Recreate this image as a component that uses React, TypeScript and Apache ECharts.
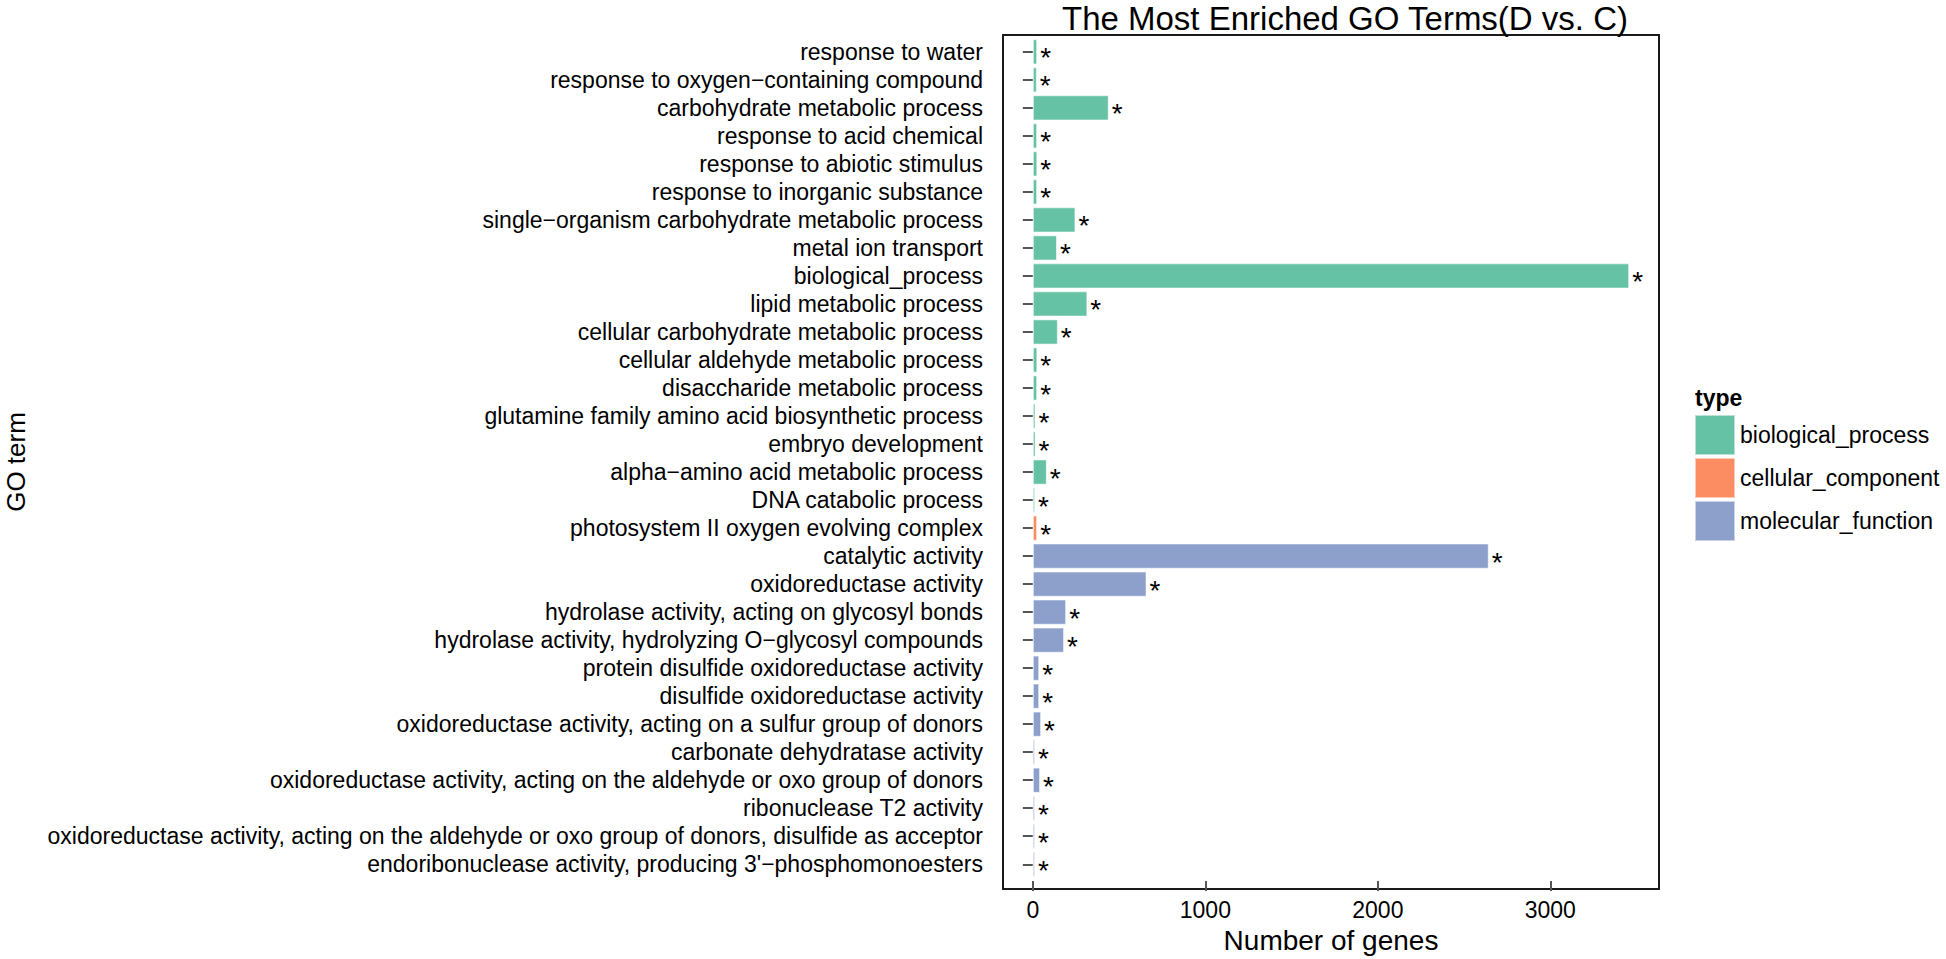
import React, { useEffect, useRef } from "react";
import * as echarts from "echarts";

const FONT = "Liberation Sans";

const goTerms: string[] = [
  "response to water",
  "response to oxygen\u2212containing compound",
  "carbohydrate metabolic process",
  "response to acid chemical",
  "response to abiotic stimulus",
  "response to inorganic substance",
  "single\u2212organism carbohydrate metabolic process",
  "metal ion transport",
  "biological_process",
  "lipid metabolic process",
  "cellular carbohydrate metabolic process",
  "cellular aldehyde metabolic process",
  "disaccharide metabolic process",
  "glutamine family amino acid biosynthetic process",
  "embryo development",
  "alpha\u2212amino acid metabolic process",
  "DNA catabolic process",
  "photosystem II oxygen evolving complex",
  "catalytic activity",
  "oxidoreductase activity",
  "hydrolase activity, acting on glycosyl bonds",
  "hydrolase activity, hydrolyzing O\u2212glycosyl compounds",
  "protein disulfide oxidoreductase activity",
  "disulfide oxidoreductase activity",
  "oxidoreductase activity, acting on a sulfur group of donors",
  "carbonate dehydratase activity",
  "oxidoreductase activity, acting on the aldehyde or oxo group of donors",
  "ribonuclease T2 activity",
  "oxidoreductase activity, acting on the aldehyde or oxo group of donors, disulfide as acceptor",
  "endoribonuclease activity, producing 3'\u2212phosphomonoesters",
];

const geneCounts: number[] = [
  25, 23, 440, 25, 26, 25, 247, 140, 3457, 316, 145, 26, 25, 15, 16, 81, 13,
  25,
  2643, 659, 193, 181, 37, 37, 48, 12, 42, 12, 12, 12,
];

const termTypes: string[] = [
  "biological_process", "biological_process", "biological_process", "biological_process",
  "biological_process", "biological_process", "biological_process", "biological_process",
  "biological_process", "biological_process", "biological_process", "biological_process",
  "biological_process", "biological_process", "biological_process", "biological_process",
  "biological_process",
  "cellular_component",
  "molecular_function", "molecular_function", "molecular_function", "molecular_function",
  "molecular_function", "molecular_function", "molecular_function", "molecular_function",
  "molecular_function", "molecular_function", "molecular_function", "molecular_function",
];

const typeNames: string[] = ["biological_process", "cellular_component", "molecular_function"];
const typeColors: string[] = ["#66C2A5", "#FC8D62", "#8DA0CB"];
const xTickValues: number[] = [0, 1000, 2000, 3000];
const significanceMark = "*";

export default function App() {
  const ref = useRef<HTMLDivElement>(null);

  useEffect(() => {
    if (!ref.current) return;
    const chart = echarts.init(ref.current, null, { renderer: "svg" });

    // panel frame geometry (ggplot-like expansion: 0.6 band each side for discrete axis)
    const frameTop = 35;
    const frameBottom = 70;
    const frameLeft = 1003;
    const frameRight = 287;
    const nCat = goTerms.length;
    const panelH = 959 - frameTop - frameBottom;
    const band = panelH / (nCat + 0.2);
    const extra = band * 0.1;

    const series = typeNames.map((t, k) => ({
      name: t,
      type: "bar",
      stack: "all",
      xAxisIndex: 1,
      yAxisIndex: 1,
      barCategoryGap: "10%",
      data: geneCounts.map((v, i) => (termTypes[i] === t ? v : null)),
      itemStyle: {
        color: typeColors[k],
        borderColor: "rgba(255,255,255,0.55)",
        borderWidth: 1,
      },
      label: {
        show: true,
        position: "right",
        formatter: significanceMark,
        distance: 3,
        offset: [0, 6],
        fontSize: 28,
        fontFamily: FONT,
        color: "#000",
      },
    }));

    chart.setOption({
      animation: false,
      backgroundColor: "#fff",
      textStyle: { fontFamily: FONT },
      title: {
        text: "The Most Enriched GO Terms(D vs. C)",
        left: 1345,
        top: 2,
        textAlign: "center",
        padding: 0,
        textStyle: { fontSize: 33, fontWeight: "normal", color: "#000", fontFamily: FONT },
      },
      legend: {
        data: typeNames,
        orient: "vertical",
        left: 1694,
        top: 414,
        padding: 0,
        itemWidth: 40,
        itemHeight: 40,
        itemGap: 1,
        icon: "rect",
        selectedMode: false,
        textStyle: { fontSize: 23, color: "#000", fontFamily: FONT },
      },
      graphic: [
        {
          type: "text",
          x: 16,
          y: 462,
          rotation: Math.PI / 2,
          style: {
            text: "GO term",
            fontSize: 26,
            fontFamily: FONT,
            fill: "#000",
            textAlign: "center",
            textVerticalAlign: "middle",
          },
        },
        {
          type: "text",
          x: 1695,
          y: 398,
          style: {
            text: "type",
            fontSize: 23,
            fontWeight: "bold",
            fontFamily: FONT,
            fill: "#000",
            textAlign: "left",
            textVerticalAlign: "middle",
          },
        },
      ],
      grid: [
        {
          left: frameLeft,
          right: frameRight,
          top: frameTop,
          bottom: frameBottom,
          show: true,
          borderColor: "#1a1a1a",
          borderWidth: 2,
          backgroundColor: "transparent",
        },
        {
          left: frameLeft,
          right: frameRight,
          top: frameTop + extra,
          bottom: frameBottom + extra,
        },
      ],
      xAxis: [
        { type: "value", gridIndex: 0, show: false },
        {
          type: "value",
          gridIndex: 1,
          min: -173,
          max: 3630,
          offset: extra,
          name: "Number of genes",
          nameLocation: "middle",
          nameGap: 40,
          nameTextStyle: { fontSize: 28, color: "#000", fontFamily: FONT },
          axisLine: { show: false },
          splitLine: { show: false },
          axisTick: {
            show: true,
            length: 10,
            customValues: xTickValues,
            lineStyle: { color: "#555", width: 2 },
          },
          axisLabel: {
            customValues: xTickValues,
            formatter: (v: number) => String(v),
            margin: 17,
            fontSize: 23,
            color: "#000",
            fontFamily: FONT,
          },
        },
      ],
      yAxis: [
        { type: "value", gridIndex: 0, show: false },
        {
          type: "category",
          gridIndex: 1,
          inverse: true,
          data: goTerms,
          axisLine: { show: false },
          axisTick: {
            show: true,
            alignWithLabel: true,
            length: 10,
            lineStyle: { color: "#555", width: 2 },
          },
          axisLabel: {
            margin: 20,
            fontSize: 23,
            color: "#000",
            fontFamily: FONT,
            interval: 0,
          },
        },
      ],
      series,
    });

    return () => chart.dispose();
  }, []);

  return (
    <div
      ref={ref}
      style={{ position: "fixed", left: 0, top: 0, width: 1946, height: 959 }}
    />
  );
}
